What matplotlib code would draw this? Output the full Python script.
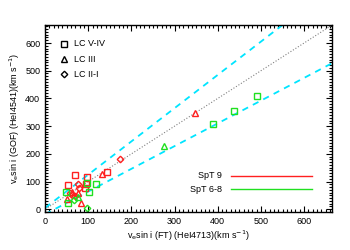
import matplotlib
matplotlib.use("Agg")
import matplotlib.pyplot as plt
from matplotlib.ticker import MultipleLocator
import numpy as np

plt.rcParams['font.family'] = ['Liberation Sans', 'DejaVu Sans']

# SpT 9 (red)
red_sq_x = [69, 97, 143, 54, 95, 93]
red_sq_y = [125, 118, 133, 88, 90, 76]
red_tr_x = [132, 83, 50, 75, 348, 63]
red_tr_y = [127, 23, 37, 60, 347, 62]
red_di_x = [174, 57, 62, 70, 77, 79]
red_di_y = [182, 60, 52, 48, 90, 75]
# SpT 6-8 (green)
grn_sq_x = [48, 118, 102, 52, 97, 388, 437, 491]
grn_sq_y = [63, 90, 63, 23, 95, 308, 355, 410]
grn_tr_x = [275, 75]
grn_tr_y = [228, 45]
grn_di_x = [98, 67]
grn_di_y = [3, 35]

line_x = [0, 700]
upper_slope, upper_icpt = 1.2, 5
lower_slope, lower_icpt = 0.82, -18

RED = '#ff2020'
GRN = '#20e020'
CYAN = '#00e5ff'

fig = plt.figure(figsize=(3.5, 2.5), dpi=100)
ax = fig.add_axes([0.129, 0.152, 0.820, 0.748])

lx = np.array(line_x)
ax.plot(lx, lx, ls=':', color='gray', lw=0.8)
ax.plot(lx, upper_slope * lx + upper_icpt, ls=(0, (3.5, 3)), color=CYAN, lw=1.3)
ax.plot(lx, lower_slope * lx + lower_icpt, ls=(0, (3.5, 3)), color=CYAN, lw=1.3)

ms = 4.6
for xs, ys, m, c in [(red_sq_x, red_sq_y, 's', RED), (red_tr_x, red_tr_y, '^', RED),
                     (red_di_x, red_di_y, 'D', RED), (grn_sq_x, grn_sq_y, 's', GRN),
                     (grn_tr_x, grn_tr_y, '^', GRN), (grn_di_x, grn_di_y, 'D', GRN)]:
    msz = ms - 1.3 if m == 'D' else ms
    ax.plot(xs, ys, ls='none', marker=m, ms=msz, mfc='none', mec=c, mew=1.0)

ax.set_xlim(0, 665)
ax.set_ylim(-10, 665)
ax.xaxis.set_major_locator(MultipleLocator(100))
ax.yaxis.set_major_locator(MultipleLocator(100))
ax.xaxis.set_minor_locator(MultipleLocator(10))
ax.yaxis.set_minor_locator(MultipleLocator(10))
ax.tick_params(which='both', direction='in', top=True, right=True, labelsize=6.5, width=0.8)
ax.tick_params(which='major', length=4)
ax.tick_params(which='minor', length=2)
for s in ax.spines.values():
    s.set_linewidth(1.0)

ax.set_xlabel('v$_{\\rm e}$sin i (FT) (HeI4713)(km s$^{-1}$)', fontsize=6.5, labelpad=2)
ax.set_ylabel('v$_{\\rm e}$sin i (GOF) (HeI4541)(km s$^{-1}$)', fontsize=6.5, labelpad=2)

# symbol legend
for i, (m, t) in enumerate([('s', 'LC V-IV'), ('^', 'LC III'), ('D', 'LC II-I')]):
    yy = 597 - i * 55
    ax.plot([44], [yy], marker=m, ms=(ms - 1.3 if m == 'D' else ms), mfc='none', mec='black', mew=1.0, ls='none')
    ax.text(68, yy, t, fontsize=6.5, va='center', ha='left')

# line legend
for i, (c, t) in enumerate([(RED, 'SpT 9'), (GRN, 'SpT 6-8')]):
    yy = 121 - i * 48
    ax.plot([430, 619], [yy, yy], color=c, lw=1.0)
    ax.text(410, yy, t, fontsize=6.5, va='center', ha='right')

fig.savefig('out.png', dpi=100)
